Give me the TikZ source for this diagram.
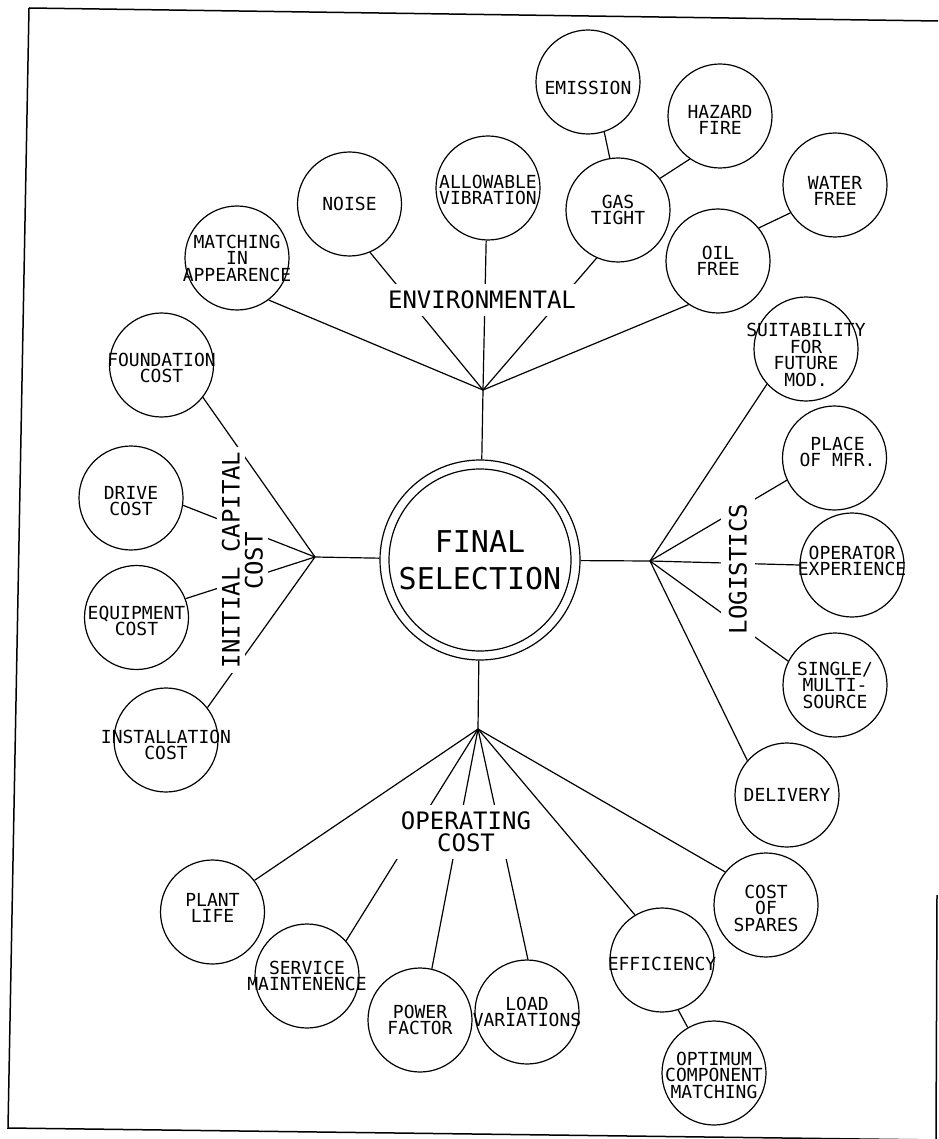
\documentclass[tikz,border=0pt]{standalone}
\usepackage{fontspec}
\newfontfamily\plotfont{DejaVu Sans Mono}
\pgfdeclarelayer{bg}
\pgfsetlayers{bg,main}
\begin{document}
\begin{tikzpicture}[x=1pt,y=-1pt,
  item/.style={circle, draw, line width=1.2pt, fill=white, minimum size=104pt, inner sep=0pt},
  itemtext/.style={inner sep=0pt, align=center, font=\plotfont\fontsize{18}{16.5}\selectfont},
  grp/.style={fill=white, inner xsep=6pt, inner ysep=6.5pt, align=center,
    font=\plotfont\fontsize{24}{22}\selectfont},
  link/.style={line width=1.2pt},
  frame/.style={line width=1.5pt}]
\useasboundingbox (0,0) rectangle (938,1139);

% frame
\draw[frame] (29,8) -- (938,21);
\draw[frame] (29,8) -- (8,1128) -- (938,1140);
\draw[frame] (937,895) -- (936,1139);

% centre
\node[circle, draw, line width=1.2pt, fill=white, minimum size=200pt, inner sep=0pt,
  align=center, font=\plotfont\fontsize{30}{37}\selectfont] (fs) at (480,560) {FINAL\\SELECTION};
\draw[line width=1.2pt] (fs.center) circle[radius=91pt];

% hubs
\coordinate (envhub) at (483,390);
\coordinate (icchub) at (315,557);
\coordinate (loghub) at (650,561);
\coordinate (ochub) at (478,729);

% group labels
\node[grp] (env) at (482,300) {ENVIRONMENTAL};
\node[grp, inner ysep=7pt] (oc) at (466,832) {OPERATING\\COST};
\node[grp, rotate=90, inner xsep=5pt, inner ysep=5.25pt] (icc1) at (231,560) {INITIAL CAPITAL};
\node[grp, rotate=90, inner xsep=5pt, inner ysep=5.25pt] (icc2) at (254,561) {COST};
\node[grp, rotate=90, inner xsep=6pt, inner ysep=8.25pt] (log) at (738,569) {LOGISTICS};

% environmental
\node[item, label={[itemtext]center:MATCHING\\IN\\APPEARENCE}] (matching) at (237,258) {};
\node[item, label={[itemtext]center:NOISE}] (noise) at (349.5,204) {};
\node[item, label={[itemtext, yshift=-2pt]center:ALLOWABLE\\VIBRATION}] (allow) at (488,188) {};
\node[item, label={[itemtext, yshift=-6pt]center:EMISSION}] (emission) at (588,82) {};
\node[item, label={[itemtext, yshift=-4pt]center:HAZARD\\FIRE}] (hazard) at (720,116) {};
\node[item, label={[itemtext]center:GAS\\TIGHT}] (gas) at (618,210) {};
\node[item, label={[itemtext, yshift=-6pt]center:WATER\\FREE}] (water) at (835,185) {};
\node[item, label={[itemtext]center:OIL\\FREE}] (oil) at (718,261) {};

% logistics
\node[item, label={[itemtext, yshift=-6pt]center:SUITABILITY\\FOR\\FUTURE\\MOD.}] (suit) at (806,349) {};
\node[item, label={[itemtext, yshift=6pt, xshift=3pt]center:PLACE\\OF MFR.}] (place) at (834.5,458) {};
\node[item, label={[itemtext, yshift=4pt]center:OPERATOR\\EXPERIENCE}] (oper) at (852,565) {};
\node[item, label={[itemtext]center:SINGLE/\\MULTI-\\SOURCE}] (single) at (835,685) {};
\node[item, label={[itemtext]center:DELIVERY}] (delivery) at (787,795) {};

% operating cost
\node[item, label={[itemtext, yshift=-3pt]center:COST\\OF\\SPARES}] (spares) at (766,905) {};
\node[item, label={[itemtext, yshift=-4pt]center:EFFICIENCY}] (eff) at (662,960) {};
\node[item, label={[itemtext, yshift=-2pt]center:OPTIMUM\\COMPONENT\\MATCHING}] (optimum) at (714,1073) {};
\node[item, label={[itemtext]center:LOAD\\VARIATIONS}] (load) at (527,1012) {};
\node[item, label={[itemtext]center:POWER\\FACTOR}] (power) at (420,1020) {};
\node[item, label={[itemtext]center:SERVICE\\MAINTENENCE}] (service) at (307,976) {};
\node[item, label={[itemtext, yshift=4pt]center:PLANT\\LIFE}] (plant) at (212.5,912) {};

% initial capital cost
\node[item, label={[itemtext, yshift=-5pt]center:INSTALLATION\\COST}] (install) at (166,740) {};
\node[item, label={[itemtext, yshift=-3.5pt]center:EQUIPMENT\\COST}] (equip) at (136.5,617.5) {};
\node[item, label={[itemtext, yshift=-3pt]center:DRIVE\\COST}] (drive) at (131,498) {};
\node[item, label={[itemtext, yshift=-3pt]center:FOUNDATION\\COST}] (found) at (161.5,365) {};

\begin{pgfonlayer}{bg}
\draw[link] (envhub) -- (fs);
\draw[link] (icchub) -- (fs);
\draw[link] (loghub) -- (fs);
\draw[link] (ochub) -- (fs);

\draw[link] (envhub) -- (matching.307);
\draw[link] (envhub) -- (noise.293);
\draw[link] (envhub) -- (allow.268);
\draw[link] (envhub) -- (gas.246);
\draw[link] (envhub) -- (oil.236);
\draw[link] (gas.99) -- (emission.288);
\draw[link] (gas.37) -- (hazard.235);
\draw[link] (oil.39) -- (water.212);

\draw[link] (icchub) -- (found.322);
\draw[link] (icchub) -- (drive.352);
\draw[link] (icchub) -- (equip.21);
\draw[link] (icchub) -- (install.38);

\draw[link] (loghub) -- (suit.222);
\draw[link] (loghub) -- (place.205);
\draw[link] (loghub) -- (oper.180);
\draw[link] (loghub) -- (single.153);
\draw[link] (loghub) -- (delivery.139);

\draw[link] (ochub) -- (plant.37);
\draw[link] (ochub) -- (service.42);
\draw[link] (ochub) -- (power.77);
\draw[link] (ochub) -- (load.89);
\draw[link] (ochub) -- (eff.121);
\draw[link] (ochub) -- (spares.141);
\draw[link] (eff.288) -- (optimum.120);
\end{pgfonlayer}
\end{tikzpicture}
\end{document}
